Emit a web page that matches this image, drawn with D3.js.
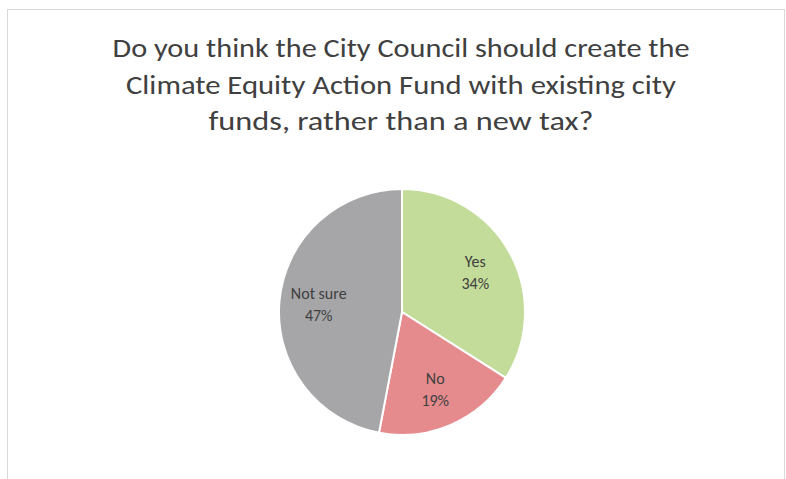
<!DOCTYPE html>
<html>
<head>
<meta charset="utf-8">
<script src="https://cdn.jsdelivr.net/npm/d3@7"></script>
<style>
  html, body { margin: 0; padding: 0; background: #fff; }
  svg { display: block; }
</style>
</head>
<body>
<svg id="chart" width="786" height="479"></svg>
<script>
// Survey answers and their shares (percent)
const categories = ["Yes", "No", "Not sure"];
const shares = [34, 19, 47];
const sliceColors = ["#c4dc9a", "#e58b8e", "#a6a6a8"];
const titleLines = [
  "Do you think the City Council should create the",
  "Climate Equity Action Fund with existing city",
  "funds, rather than a new tax?"
];

const W = 786, H = 479;
const svg = d3.select("#chart");
const font = "Carlito, Lato, 'Open Sans', 'Liberation Sans', sans-serif";

// chart frame
svg.append("rect")
  .attr("x", 7.5).attr("y", 9.5)
  .attr("width", 777).attr("height", 480)
  .attr("fill", "#fff")
  .attr("stroke", "#d9d9d9").attr("stroke-width", 1);

// title
const title = svg.append("g")
  .attr("font-family", font)
  .attr("fill", "#404040")
  .attr("text-anchor", "middle");
title.selectAll("text")
  .data(titleLines)
  .join("text")
  .attr("x", 401)
  .attr("y", (d, i) => 57 + i * 36.5)
  .attr("font-size", 26)
  .attr("textLength", (d, i) => [577, 550, 385][i])
  .attr("lengthAdjust", "spacingAndGlyphs")
  .text(d => d);

// pie
const cx = 402, cy = 312, R = 123;
const data = categories.map((c, i) => ({ name: c, value: shares[i], color: sliceColors[i] }));
const pie = d3.pie().value(d => d.value).sort(null);
const arcs = pie(data);
const arc = d3.arc().innerRadius(0).outerRadius(R);
const labelArc = d3.arc().innerRadius(R * 0.68).outerRadius(R * 0.68);

const g = svg.append("g").attr("transform", `translate(${cx},${cy})`);
g.selectAll("path")
  .data(arcs)
  .join("path")
  .attr("d", arc)
  .attr("fill", d => d.data.color)
  .attr("stroke", "#fff")
  .attr("stroke-width", 2)
  .attr("stroke-linejoin", "round");

const labels = g.selectAll("g.lbl")
  .data(arcs)
  .join("g")
  .attr("class", "lbl")
  .attr("transform", d => {
    const [x, y] = labelArc.centroid(d);
    return `translate(${x},${y})`;
  })
  .attr("font-family", font)
  .attr("font-size", 16)
  .attr("fill", "#404040")
  .attr("text-anchor", "middle");

labels.append("text").attr("y", -5).text(d => d.data.name);
labels.append("text").attr("y", 17).text(d => d.data.value + "%");
</script>
</body>
</html>
